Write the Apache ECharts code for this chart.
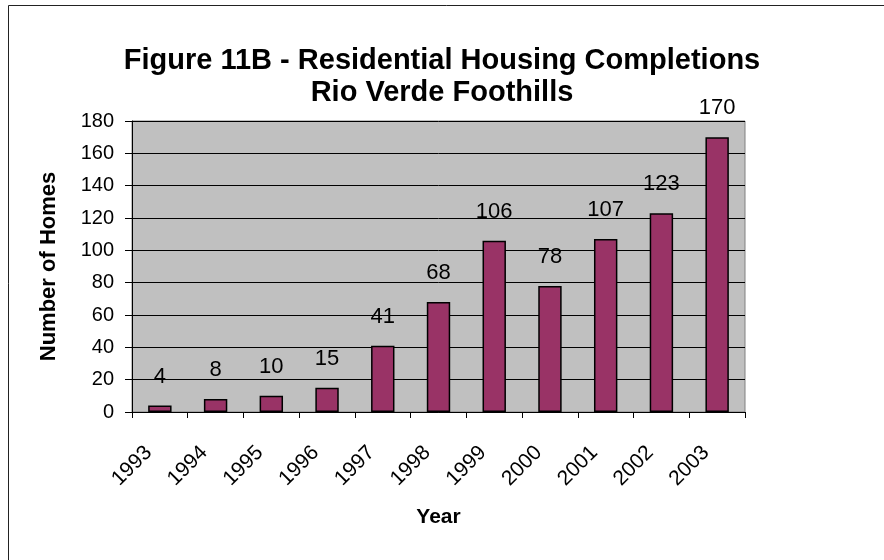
<!DOCTYPE html>
<html>
<head>
<meta charset="utf-8">
<script src="https://cdn.jsdelivr.net/npm/echarts@6/dist/echarts.min.js"></script>
<style>
  html, body { margin: 0; padding: 0; background: #fff; }
  #chart { width: 884px; height: 560px; }
</style>
</head>
<body>
<div id="chart"></div>
<script>
  const years = ['1993', '1994', '1995', '1996', '1997', '1998', '1999', '2000', '2001', '2002', '2003']
  const homes = [4, 8, 10, 15, 41, 68, 106, 78, 107, 123, 170]
  const yTicks = [0, 20, 40, 60, 80, 100, 120, 140, 160, 180]

  const font = 'Liberation Sans, Arial, sans-serif'
  const chart = echarts.init(document.getElementById('chart'))

  chart.setOption({
    animation: false,
    textStyle: { fontFamily: font },
    title: {
      text: 'Figure 11B - Residential Housing Completions\nRio Verde Foothills',
      left: 'center',
      top: 40,
      textStyle: { fontFamily: font, fontSize: 29, fontWeight: 'bold', color: '#000', lineHeight: 32 }
    },
    graphic: [{
      type: 'rect',
      shape: { x: 8.5, y: 5.5, width: 1000, height: 1000 },
      style: { fill: 'none', stroke: '#222', lineWidth: 1 },
      silent: true
    }],
    grid: {
      left: 132,
      right: 139,
      top: 121,
      bottom: 148,
      show: true,
      backgroundColor: '#c0c0c0',
      borderColor: '#808080',
      borderWidth: 1
    },
    xAxis: {
      type: 'category',
      data: years,
      name: 'Year',
      nameLocation: 'middle',
      nameGap: 95,
      nameTextStyle: { fontFamily: font, fontSize: 21, fontWeight: 'bold', color: '#000' },
      axisLine: { lineStyle: { color: '#000', width: 1 } },
      axisTick: { show: true, length: 6, lineStyle: { color: '#000' } },
      // padding pushes the rotated text back along its own direction
      axisLabel: { rotate: 45, margin: 26, padding: [0, 16, 0, 0], fontSize: 21, color: '#000', fontFamily: font }
    },
    yAxis: {
      type: 'value',
      min: yTicks[0],
      max: yTicks[yTicks.length - 1],
      interval: 20,
      name: 'Number of Homes',
      nameLocation: 'middle',
      nameGap: 72,
      nameTextStyle: { fontFamily: font, fontSize: 22, fontWeight: 'bold', color: '#000' },
      axisLine: { show: true, lineStyle: { color: '#000', width: 1 } },
      axisTick: { show: true, length: 7, lineStyle: { color: '#000' } },
      axisLabel: { margin: 18, fontSize: 20, color: '#000', fontFamily: font },
      splitLine: { show: true, lineStyle: { color: '#000', width: 1 } }
    },
    series: [{
      type: 'bar',
      data: homes,
      barWidth: '42%',
      itemStyle: { color: '#993366', borderColor: '#000', borderWidth: 1.5 },
      label: {
        show: true,
        position: 'top',
        distance: 18,
        fontSize: 22,
        color: '#000',
        fontFamily: font
      }
    }]
  })
</script>
</body>
</html>
